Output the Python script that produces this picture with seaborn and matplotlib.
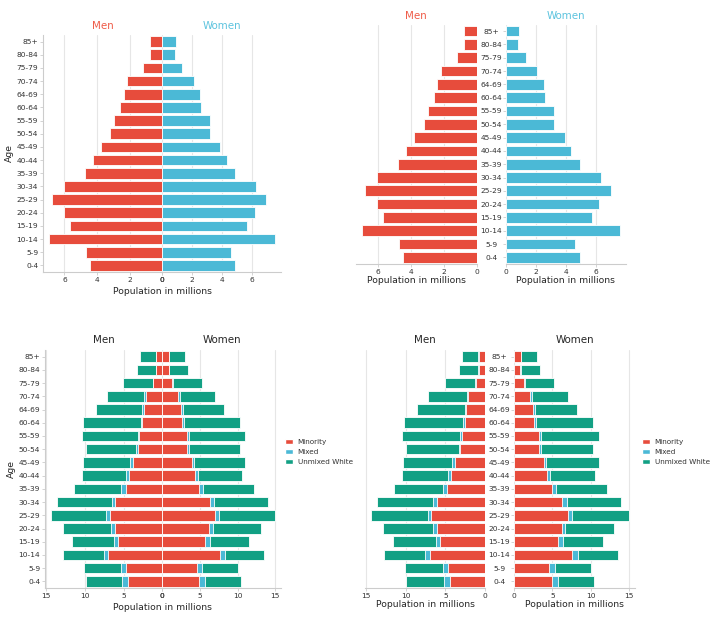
import numpy as np
import matplotlib
matplotlib.use("Agg")
import matplotlib.pyplot as plt
from matplotlib.patches import Patch
import seaborn as sns

# --------------------------------------------------------------------------
# data (millions), rows from the top of the pyramid down
# --------------------------------------------------------------------------
ages = ["85+", "80-84", "75-79", "70-74", "64-69", "60-64", "55-59", "50-54", "45-49",
        "40-44", "35-39", "30-34", "25-29", "20-24", "15-19", "10-14", "5-9", "0-4"]

men = [0.78, 0.78, 1.18, 2.16, 2.37, 2.58, 2.97, 3.18, 3.77,
       4.27, 4.76, 6.06, 6.78, 6.06, 5.67, 6.97, 4.68, 4.45]
women = [0.89, 0.83, 1.32, 2.10, 2.53, 2.62, 3.22, 3.22, 3.91,
         4.32, 4.90, 6.31, 7.00, 6.20, 5.70, 7.60, 4.61, 4.90]

# stacked version: minority / mixed / unmixed white
men_minority = men
men_mixed = [0.08, 0.08, 0.07, 0.16, 0.21, 0.21, 0.21, 0.17, 0.36,
             0.41, 0.57, 0.51, 0.48, 0.56, 0.56, 0.63, 0.65, 0.71]
men_white = [2.02, 2.45, 3.78, 4.86, 6.02, 7.48, 7.26, 6.58, 6.18,
             5.76, 6.14, 7.05, 7.19, 6.27, 5.42, 5.21, 4.81, 4.77]
women_minority = women
women_mixed = [0.04, 0.05, 0.05, 0.19, 0.20, 0.29, 0.26, 0.31, 0.32,
               0.40, 0.53, 0.53, 0.50, 0.50, 0.65, 0.69, 0.68, 0.79]
women_white = [2.07, 2.56, 3.88, 4.72, 5.43, 7.41, 7.55, 6.79, 6.80,
               5.87, 6.74, 7.14, 7.50, 6.36, 5.21, 5.21, 4.72, 4.72]

RED = "#e74c3c"
BLUE = "#4bb9d6"
GREEN = "#12a084"
RED_TXT = "#ef5b48"
BLUE_TXT = "#5cc3de"

TICK_FS = 5.4
LABEL_FS = 6.7
TITLE_FS = 7.4
LEGEND_FS = 5.2

sns.set_style("whitegrid", {"xtick.bottom": True, "ytick.left": True,
                            "grid.color": "#e6e6e6", "axes.edgecolor": "#cccccc"})
plt.rcParams["font.family"] = ["DejaVu Sans"]

W, H = 720, 628
fig = plt.figure(figsize=(7.2, 6.28), dpi=100)


def add_ax(x0, x1, ytop, ybot):
    return fig.add_axes([x0 / W, 1 - ybot / H, (x1 - x0) / W, (ybot - ytop) / H])


def bars(ax, values, color):
    sns.barplot(x=values, y=ages, orient="h", color=color, saturation=1,
                edgecolor="white", linewidth=0.6, ax=ax)


def stacked(ax, minority, mixed, white):
    # draw the running totals on top of each other
    minority = np.array(minority)
    mixed = np.array(mixed)
    white = np.array(white)
    bars(ax, minority + mixed + white, GREEN)
    bars(ax, minority + mixed, BLUE)
    bars(ax, minority, RED)


def style(ax, men_side, show_left_spine=False):
    ax.set_xlabel("")
    ax.set_ylabel("")
    ax.tick_params(axis="both", labelsize=TICK_FS, length=2, width=0.6,
                   colors="#cccccc", labelcolor="#333333", pad=1.5)
    sns.despine(ax=ax, left=not show_left_spine)
    if men_side:
        ax.invert_xaxis()


# --------------------------------------------------------------------------
# top-left: shared age axis on the left
# --------------------------------------------------------------------------
ax1m = add_ax(43, 162.3, 35, 272)
ax1w = add_ax(162.3, 281, 35, 272)
bars(ax1m, men, RED)
bars(ax1w, women, BLUE)
style(ax1m, True, show_left_spine=True)
style(ax1w, False)
ax1w.tick_params(axis="y", left=False, labelleft=False)
ax1m.set_ylabel("Age", fontsize=LABEL_FS, labelpad=2)
ax1m.set_title("Men", color=RED_TXT, fontsize=TITLE_FS, pad=4)
ax1w.set_title("Women", color=BLUE_TXT, fontsize=TITLE_FS, pad=4)
fig.text(162.3 / W, 1 - 292 / H, "Population in millions", ha="center", va="center",
         fontsize=LABEL_FS, color="#262626")

# --------------------------------------------------------------------------
# top-right: age labels between the two halves
# --------------------------------------------------------------------------
ax2m = add_ax(356, 476.5, 24.5, 264)
ax2w = add_ax(505.7, 626, 24.5, 264)
bars(ax2m, men, RED)
bars(ax2w, women, BLUE)
style(ax2m, True)
style(ax2w, False)
ax2m.tick_params(axis="y", left=False, labelleft=False)
ax2w.tick_params(axis="y", pad=8.5)
for lab in ax2w.get_yticklabels():
    lab.set_horizontalalignment("center")
ax2m.set_title("Men", color=RED_TXT, fontsize=TITLE_FS, pad=4)
ax2w.set_title("Women", color=BLUE_TXT, fontsize=TITLE_FS, pad=4)
ax2m.set_xlabel("Population in millions", fontsize=LABEL_FS, labelpad=1)
ax2w.set_xlabel("Population in millions", fontsize=LABEL_FS, labelpad=1)

# --------------------------------------------------------------------------
# bottom-left: stacked, shared age axis
# --------------------------------------------------------------------------
ax3m = add_ax(45, 162.3, 350, 588)
ax3w = add_ax(162.3, 281, 350, 588)
stacked(ax3m, men_minority, men_mixed, men_white)
stacked(ax3w, women_minority, women_mixed, women_white)
style(ax3m, True, show_left_spine=True)
style(ax3w, False)
ax3w.tick_params(axis="y", left=False, labelleft=False)
ax3m.set_ylabel("Age", fontsize=LABEL_FS, labelpad=2)
ax3m.set_title("Men", color="#262626", fontsize=TITLE_FS, pad=5)
ax3w.set_title("Women", color="#262626", fontsize=TITLE_FS, pad=5)
fig.text(162.3 / W, 1 - 607 / H, "Population in millions", ha="center", va="center",
         fontsize=LABEL_FS, color="#262626")

# --------------------------------------------------------------------------
# bottom-right: stacked, age labels in the middle
# --------------------------------------------------------------------------
ax4m = add_ax(365, 485, 350, 588)
ax4w = add_ax(514, 635, 350, 588)
stacked(ax4m, men_minority, men_mixed, men_white)
stacked(ax4w, women_minority, women_mixed, women_white)
style(ax4m, True)
style(ax4w, False)
ax4m.tick_params(axis="y", left=False, labelleft=False)
ax4w.tick_params(axis="y", pad=8.5)
for lab in ax4w.get_yticklabels():
    lab.set_horizontalalignment("center")
ax4m.set_title("Men", color="#262626", fontsize=TITLE_FS, pad=5)
ax4w.set_title("Women", color="#262626", fontsize=TITLE_FS, pad=5)
ax4m.set_xlabel("Population in millions", fontsize=LABEL_FS, labelpad=1)
ax4w.set_xlabel("Population in millions", fontsize=LABEL_FS, labelpad=1)

# legends for the stacked charts
handles = [Patch(facecolor=RED, edgecolor="white"),
           Patch(facecolor=BLUE, edgecolor="white"),
           Patch(facecolor=GREEN, edgecolor="white")]
names = ["Minority", "Mixed", "Unmixed White"]
for lx in (284, 641):
    fig.legend(handles, names, loc="center left", bbox_to_anchor=(lx / W, 1 - 452 / H),
               frameon=False, fontsize=LEGEND_FS, handlelength=1.1, handleheight=0.75,
               handletextpad=0.6, labelspacing=0.5, borderaxespad=0, borderpad=0.2,
               labelcolor="#333333")

plt.savefig("out.png", dpi=100)
